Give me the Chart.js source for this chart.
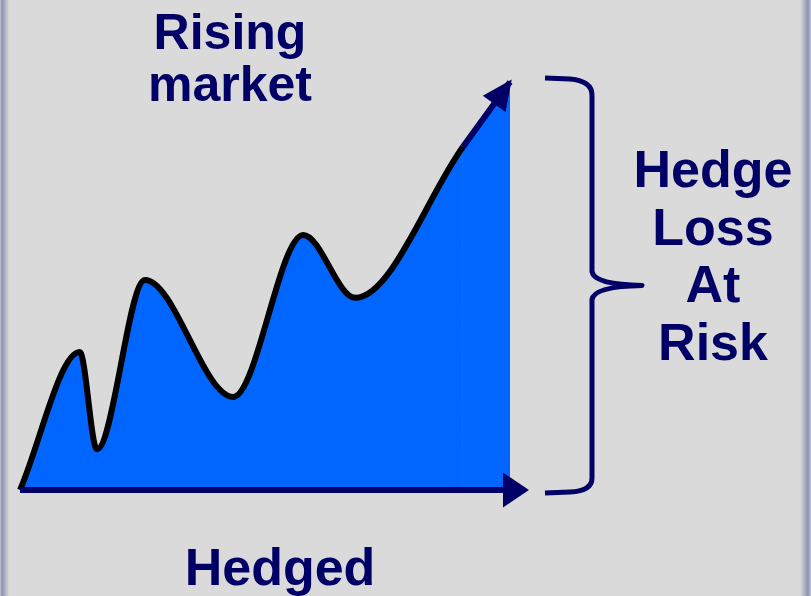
<!DOCTYPE html>
<html>
<head>
<meta charset="utf-8">
<script src="https://cdn.jsdelivr.net/npm/chart.js@4/dist/chart.umd.min.js"></script>
<style>
  html, body { margin: 0; padding: 0; }
  body {
    width: 811px; height: 596px; overflow: hidden; position: relative;
    background:
      linear-gradient(to right, #c4c8d6 0px, #8a93b2 2px, rgba(218,218,218,0) 9px),
      linear-gradient(to left, #c4c8d6 0px, #8a93b2 3px, rgba(218,218,218,0) 11px),
      #dadada;
    font-family: "Liberation Sans", Arial, sans-serif;
    font-weight: bold;
    color: #000066;
  }
  canvas { position: absolute; left: 0; top: 0; }
  .rotulo { position: absolute; text-align: center; white-space: nowrap; }
  #arriba { left: 80px; top: 6px; width: 300px; font-size: 50px; line-height: 52px; }
  #derecha { left: 613px; top: 141px; width: 200px; font-size: 52px; line-height: 57.5px; }
  #abajo { left: 130px; top: 538px; width: 300px; font-size: 52px; line-height: 58px; }
</style>
</head>
<body>
<canvas id="grafico" width="811" height="596"></canvas>
<div class="rotulo" id="arriba">Rising<br>market</div>
<div class="rotulo" id="derecha">Hedge<br>Loss<br>At<br>Risk</div>
<div class="rotulo" id="abajo">Hedged</div>
<script>
// Recorrido del mercado: posición en el tiempo (0-100) y nivel (0-100)
const posiciones = [0, 12.2, 15.7, 25.5, 43.5, 57.8, 68.4, 90.4, 100];
const mercado   = [0, 33.8, 10.0, 51.5, 22.8, 62.5, 47.1, 84.1, 100];

const azulMarino = '#000066';
const azulRelleno = '#0066ff';
const ultimo = posiciones.length - 1;

// Flecha del recorrido, eje horizontal con flecha y llave de la pérdida
const adornos = {
  id: 'adornos',
  afterDatasetsDraw(chart) {
    const { ctx, scales: { x, y } } = chart;
    const puntos = chart.getDatasetMeta(0).data;
    const fin = puntos[ultimo];
    const previo = puntos[ultimo - 1];

    ctx.save();
    ctx.fillStyle = azulMarino;
    ctx.strokeStyle = azulMarino;

    // punta de flecha al final del recorrido
    const ang = Math.atan2(fin.y - previo.y, fin.x - previo.x);
    const dx = Math.cos(ang), dy = Math.sin(ang);
    const px = -dy, py = dx;
    const puntaX = fin.x + 3 * dx, puntaY = fin.y + 3 * dy;
    const baseX = puntaX - 30 * dx, baseY = puntaY - 30 * dy;
    ctx.beginPath();
    ctx.moveTo(puntaX, puntaY);
    ctx.lineTo(baseX + 14 * px, baseY + 14 * py);
    ctx.lineTo(baseX - 14 * px, baseY - 14 * py);
    ctx.closePath();
    ctx.fill();

    // eje horizontal
    const y0 = y.getPixelForValue(0);
    const finEje = x.getPixelForValue(100) + 19;
    ctx.lineWidth = 6;
    ctx.beginPath();
    ctx.moveTo(x.getPixelForValue(0), y0);
    ctx.lineTo(finEje - 24, y0);
    ctx.stroke();
    ctx.beginPath();
    ctx.moveTo(finEje, y0);
    ctx.lineTo(finEje - 26, y0 - 17.5);
    ctx.lineTo(finEje - 26, y0 + 17.5);
    ctx.closePath();
    ctx.fill();

    // llave entre el máximo y la base
    const arriba = y.getPixelForValue(mercado[ultimo]) - 4;
    const abajo = y0 + 3;
    const medio = (arriba + abajo) / 2;
    const izq = x.getPixelForValue(100) + 35;
    const col = izq + 47;
    const pico = col + 50;
    ctx.lineWidth = 5;
    ctx.lineJoin = 'round';
    ctx.beginPath();
    ctx.moveTo(izq, arriba);
    ctx.lineTo(izq + 25, arriba + 1);
    ctx.quadraticCurveTo(col, arriba + 3, col, arriba + 17);
    ctx.lineTo(col, medio - 14);
    ctx.quadraticCurveTo(col + 2, medio - 1, pico, medio);
    ctx.quadraticCurveTo(col + 2, medio + 1, col, medio + 14);
    ctx.lineTo(col, abajo - 15);
    ctx.quadraticCurveTo(col, abajo - 2, izq + 25, abajo - 1);
    ctx.lineTo(izq, abajo);
    ctx.stroke();

    ctx.restore();
  }
};

new Chart(document.getElementById('grafico'), {
  type: 'line',
  data: {
    datasets: [{
      data: posiciones.map((p, i) => ({ x: p, y: mercado[i] })),
      borderColor: 'black',
      borderWidth: 6,
      backgroundColor: azulRelleno,
      fill: 'origin',
      cubicInterpolationMode: 'monotone',
      pointRadius: 0,
      clip: false,
      segment: {
        borderColor: c => c.p1DataIndex === ultimo ? azulMarino : 'black',
      },
    }],
  },
  options: {
    responsive: false,
    animation: false,
    layout: { padding: { left: 20, right: 301, top: 82, bottom: 106 } },
    plugins: { legend: { display: false }, tooltip: { enabled: false } },
    scales: {
      x: { type: 'linear', min: 0, max: 100, display: false },
      y: { min: 0, max: 100, display: false },
    },
  },
  plugins: [adornos],
});
</script>
</body>
</html>
